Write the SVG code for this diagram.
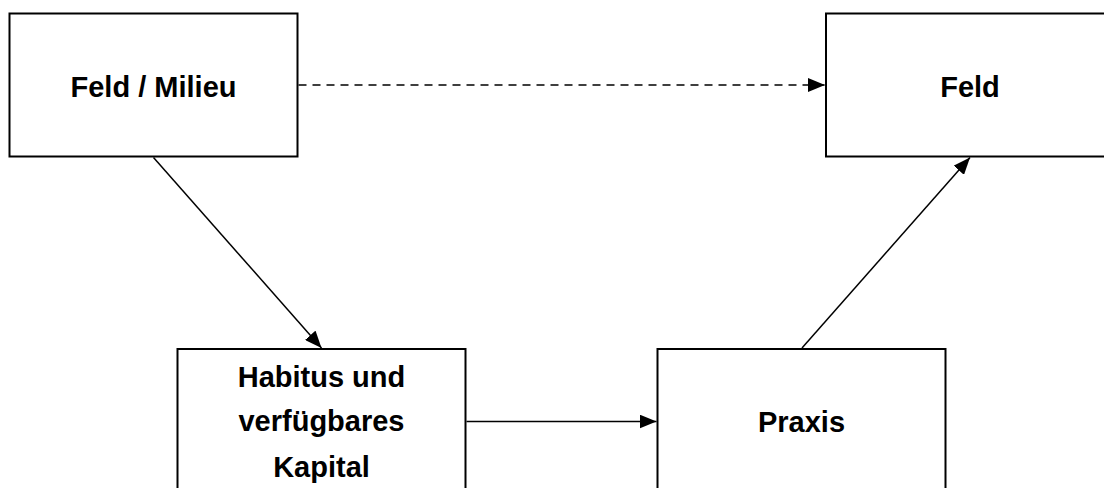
<svg xmlns="http://www.w3.org/2000/svg" width="1104" height="488" viewBox="0 0 1104 488">
  <style>
    .box { fill: #ffffff; stroke: #000000; stroke-width: 2; }
    .lbl { font-family: "Liberation Sans", Arial, sans-serif; font-weight: bold; font-size: 29px; fill: #000000; text-anchor: middle; }
    .conn { stroke: #000000; stroke-width: 1.5; fill: none; }
    .dash { stroke-dasharray: 8 6; }
  </style>
  <defs>
    <marker id="arrow" markerUnits="userSpaceOnUse" markerWidth="17" markerHeight="14" refX="17" refY="7" orient="auto">
      <path d="M0,0 L17,7 L0,14 Z" fill="#000000"/>
    </marker>
  </defs>
  <rect width="1104" height="488" fill="#ffffff"/>
  <g id="node-feld-milieu">
    <rect class="box" x="9.5" y="13.5" width="288" height="143"/>
    <text class="lbl" x="153.5" y="96.5">Feld / Milieu</text>
  </g>
  <g id="node-feld">
    <rect class="box" x="826" y="13.5" width="288" height="143"/>
    <text class="lbl" x="970" y="96.5">Feld</text>
  </g>
  <g id="node-habitus">
    <rect class="box" x="177.5" y="349" width="288" height="143"/>
    <text class="lbl" x="321.5" y="386.5">Habitus und</text>
    <text class="lbl" x="321.5" y="431">verfügbares</text>
    <text class="lbl" x="321.5" y="476.5">Kapital</text>
  </g>
  <g id="node-praxis">
    <rect class="box" x="657.5" y="349" width="288" height="143"/>
    <text class="lbl" x="801.5" y="431.5">Praxis</text>
  </g>
  <g id="connectors">
    <line class="conn dash" x1="298.5" y1="85" x2="825" y2="85" marker-end="url(#arrow)"/>
    <line class="conn" x1="153.5" y1="157.5" x2="321.5" y2="348" marker-end="url(#arrow)"/>
    <line class="conn" x1="466.5" y1="421.5" x2="656.5" y2="421.5" marker-end="url(#arrow)"/>
    <line class="conn" x1="802" y1="348" x2="970" y2="157.5" marker-end="url(#arrow)"/>
  </g>
</svg>
